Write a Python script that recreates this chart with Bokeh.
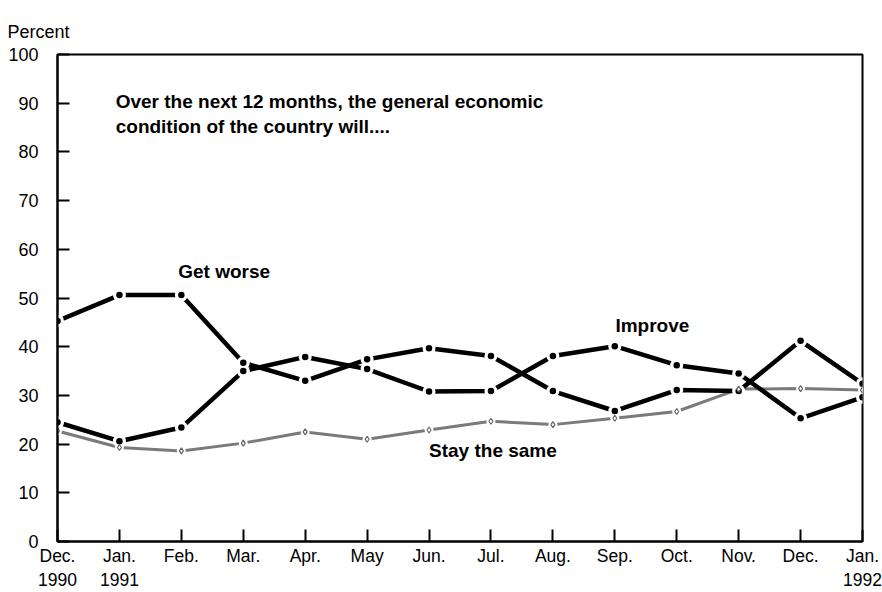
from bokeh.plotting import figure
from bokeh.models import Range1d, FixedTicker, Label
from bokeh.embed import file_html
from bokeh.resources import INLINE

# ---- data ----
month_labels = ["Dec.\n1990", "Jan.\n1991", "Feb.", "Mar.", "Apr.", "May", "Jun.",
                "Jul.", "Aug.", "Sep.", "Oct.", "Nov.", "Dec.", "Jan.\n1992"]
get_worse = [45.3, 50.6, 50.6, 36.7, 33.0, 37.4, 39.7, 38.1, 30.9, 26.8, 31.1, 30.9, 41.2, 32.4]
improve = [24.5, 20.6, 23.4, 35.0, 37.9, 35.4, 30.8, 30.9, 38.1, 40.1, 36.2, 34.5, 25.3, 29.6]
stay_same = [22.7, 19.3, 18.6, 20.2, 22.5, 21.0, 22.9, 24.7, 24.0, 25.3, 26.7, 31.3, 31.4, 31.1]
y_ticks = [0, 10, 20, 30, 40, 50, 60, 70, 80, 90, 100]

x = list(range(len(month_labels)))

FONT = "Liberation Sans"

p = figure(width=882, height=592, output_backend="svg", toolbar_location=None,
           x_range=Range1d(0, len(month_labels) - 1), y_range=Range1d(0, 100),
           min_border_left=57, min_border_right=20, min_border_top=54, min_border_bottom=50)
p.grid.visible = False
p.outline_line_color = "black"
p.outline_line_width = 2
p.background_fill_color = "white"
p.border_fill_color = "white"

p.title.text = "Percent"
p.title.align = "left"
p.title.offset = -50
p.title.standoff = 26
p.title.text_font = FONT
p.title.text_font_style = "normal"
p.title.text_font_size = "18px"
p.title.text_color = "black"

for ax in (p.xaxis[0], p.yaxis[0]):
    ax.axis_line_width = 2
    ax.axis_line_color = "black"
    ax.major_tick_in = 12
    ax.major_tick_out = 0
    ax.major_tick_line_width = 2
    ax.minor_tick_line_color = None
    ax.major_label_text_font = FONT
    ax.major_label_text_font_size = "18px"
    ax.major_label_text_color = "black"

p.xaxis.ticker = FixedTicker(ticks=x)
p.xaxis.major_label_overrides = {i: lab for i, lab in enumerate(month_labels)}
p.xaxis.major_label_standoff = 4
p.xaxis.major_label_text_font_size = "17.5px"
p.yaxis.ticker = FixedTicker(ticks=y_ticks)
p.yaxis.major_label_standoff = 19

# Stay the same (gray, thin)
p.line(x, stay_same, line_color="#7a7a7a", line_width=3)
# Get worse / Improve (thick black)
p.line(x, get_worse, line_color="black", line_width=4.5)
p.line(x, improve, line_color="black", line_width=4.5)
# gaps around markers
p.scatter(x, stay_same, marker="circle", size=9, fill_color="white", line_color=None)
p.scatter(x, get_worse, marker="circle", size=13, fill_color="white", line_color=None)
p.scatter(x, improve, marker="circle", size=13, fill_color="white", line_color=None)
p.scatter(x, get_worse, marker="circle", size=6.5, fill_color="black", line_color=None)
p.scatter(x, improve, marker="circle", size=6.5, fill_color="black", line_color=None)
p.scatter(x, stay_same, marker="diamond", size=6, fill_color="white", line_color="#666666", line_width=1.2)

def lab(xv, yv, text, size="19px", style="bold"):
    p.add_layout(Label(x=xv, y=yv, text=text, text_font=FONT, text_font_style=style,
                       text_font_size=size, text_color="black", text_baseline="middle",
                       text_align="left"))

lab(0.94, 90.3, "Over the next 12 months, the general economic")
lab(0.94, 85.2, "condition of the country will....")
lab(1.95, 55.4, "Get worse")
lab(9.01, 44.4, "Improve")
lab(6.0, 18.7, "Stay the same")

open("out.html", "w").write(file_html(p, INLINE))
